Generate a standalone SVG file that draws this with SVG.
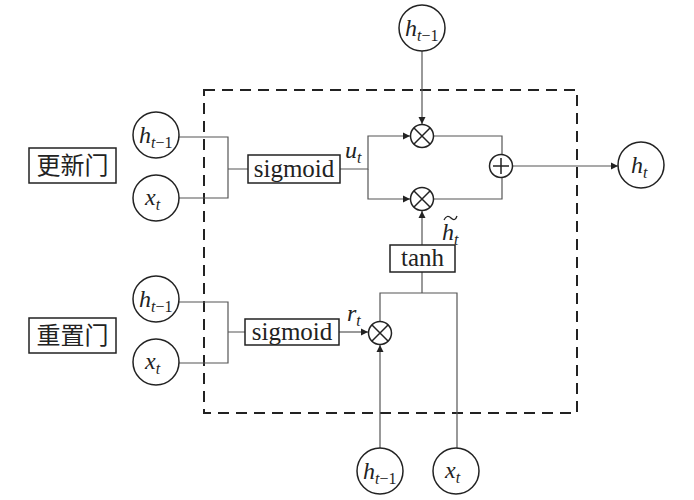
<svg xmlns="http://www.w3.org/2000/svg" width="694" height="500" viewBox="0 0 694 500">
<style>
.c{fill:#fff;stroke:#222;stroke-width:1.5}
.op{fill:#fff;stroke:#222;stroke-width:1.5}
.box{fill:#fff;stroke:#222;stroke-width:1.5}
.ln{fill:none;stroke:#555;stroke-width:1.2}
.m{font-family:"Liberation Serif",serif;font-style:italic;font-size:24px;fill:#222}
.s{font-family:"Liberation Serif",serif;font-size:16px;fill:#222}
.t{font-family:"Liberation Serif",serif;font-size:25px;fill:#222;text-anchor:middle}
.cn{font-family:"Liberation Serif","Noto Sans CJK SC",serif;font-size:24px;fill:#222;text-anchor:middle}
</style>
<defs>
<marker id="ar" markerWidth="8" markerHeight="8" refX="7" refY="4" orient="auto" markerUnits="userSpaceOnUse">
<path d="M0,0.5 L7,4 L0,7.5 Z" fill="#222"/>
</marker>
</defs>
<rect x="204" y="90" width="373" height="323" fill="none" stroke="#222" stroke-width="2" stroke-dasharray="11,7"/>
<g id="connectors">
<path class="ln" d="M422,50 V124" marker-end="url(#ar)"/>
<path class="ln" d="M179,137 H228 V198 H179 M228,169 H248"/>
<path class="ln" d="M179,302 H228 V363 H179 M228,332 H245"/>
<path class="ln" d="M340,169 H368 V136 H410" marker-end="url(#ar)"/>
<path class="ln" d="M368,169 V199 H410" marker-end="url(#ar)"/>
<path class="ln" d="M434,136 H502 V154"/>
<path class="ln" d="M434,199 H502 V178"/>
<path class="ln" d="M513,166 H618" marker-end="url(#ar)"/>
<path class="ln" d="M339,332 H368" marker-end="url(#ar)"/>
<path class="ln" d="M380,449 V345" marker-end="url(#ar)"/>
<path class="ln" d="M380,321 V293 H457 V449"/>
<path class="ln" d="M422,293 V272"/>
<path class="ln" d="M422,245 V211" marker-end="url(#ar)"/>
</g>
<g id="h_top"><circle class="c" cx="422" cy="28" r="23"/><text x="405" y="36" class="m">h<tspan class="s" dy="5">t</tspan><tspan class="s" font-style="normal">−1</tspan></text></g>
<g id="mul_top"><circle class="op" cx="422" cy="136" r="11.5"/><path d="M414,128 L430,144 M430,128 L414,144" stroke="#222" stroke-width="1.5"/></g>
<g id="mul_bot"><circle class="op" cx="422" cy="199" r="11.5"/><path d="M414,191 L430,207 M430,191 L414,207" stroke="#222" stroke-width="1.5"/></g>
<g id="plus"><circle class="op" cx="501" cy="166" r="11.5"/><path d="M501,158 V174 M493,166 H509" stroke="#222" stroke-width="1.5"/></g>
<g id="h_t"><circle class="c" cx="641" cy="165" r="23"/><text x="631" y="173" class="m">h<tspan class="s" dy="5">t</tspan></text></g>
<g id="h_up"><circle class="c" cx="156" cy="135" r="23"/><text x="139" y="143" class="m">h<tspan class="s" dy="5">t</tspan><tspan class="s" font-style="normal">−1</tspan></text></g>
<g id="x_up"><circle class="c" cx="156" cy="198" r="23"/><text x="145" y="205" class="m">x<tspan class="s" dy="5">t</tspan></text></g>
<g id="h_lo"><circle class="c" cx="156" cy="299" r="23"/><text x="139" y="307" class="m">h<tspan class="s" dy="5">t</tspan><tspan class="s" font-style="normal">−1</tspan></text></g>
<g id="x_lo"><circle class="c" cx="156" cy="362" r="23"/><text x="145" y="369" class="m">x<tspan class="s" dy="5">t</tspan></text></g>
<g id="upd"><rect class="box" x="29" y="148" width="87" height="35"/><text x="72.5" y="174" class="cn">更新门</text></g>
<g id="rst"><rect class="box" x="29" y="318" width="87" height="35"/><text x="72.5" y="344" class="cn">重置门</text></g>
<g id="sig_up"><rect class="box" x="248" y="155" width="92" height="28"/><text x="294" y="177" class="t">sigmoid</text></g>
<g id="sig_lo"><rect class="box" x="245" y="319" width="94" height="26"/><text x="292" y="340" class="t">sigmoid</text></g>
<g id="u_t"><text x="345" y="158" class="m">u<tspan class="s" dy="5">t</tspan></text></g>
<g id="r_t"><text x="347" y="321" class="m">r<tspan class="s" dy="5">t</tspan></text></g>
<g id="tanh"><rect class="box" x="390" y="245" width="65" height="27"/><text x="422.5" y="266" class="t" font-size="24">tanh</text></g>
<g id="htil"><text x="442" y="240" class="m">h<tspan class="s" dy="5">t</tspan></text><path d="M444,220 Q447,214 451,218 T457,216" fill="none" stroke="#222" stroke-width="1.3"/></g>
<g id="mul_r"><circle class="op" cx="380" cy="333" r="11.5"/><path d="M372,325 L388,341 M388,325 L372,341" stroke="#222" stroke-width="1.5"/></g>
<g id="h_bot"><circle class="c" cx="380" cy="471" r="23"/><text x="363" y="479" class="m">h<tspan class="s" dy="5">t</tspan><tspan class="s" font-style="normal">−1</tspan></text></g>
<g id="x_bot"><circle class="c" cx="456" cy="471" r="23"/><text x="445" y="478" class="m">x<tspan class="s" dy="5">t</tspan></text></g>
</svg>
